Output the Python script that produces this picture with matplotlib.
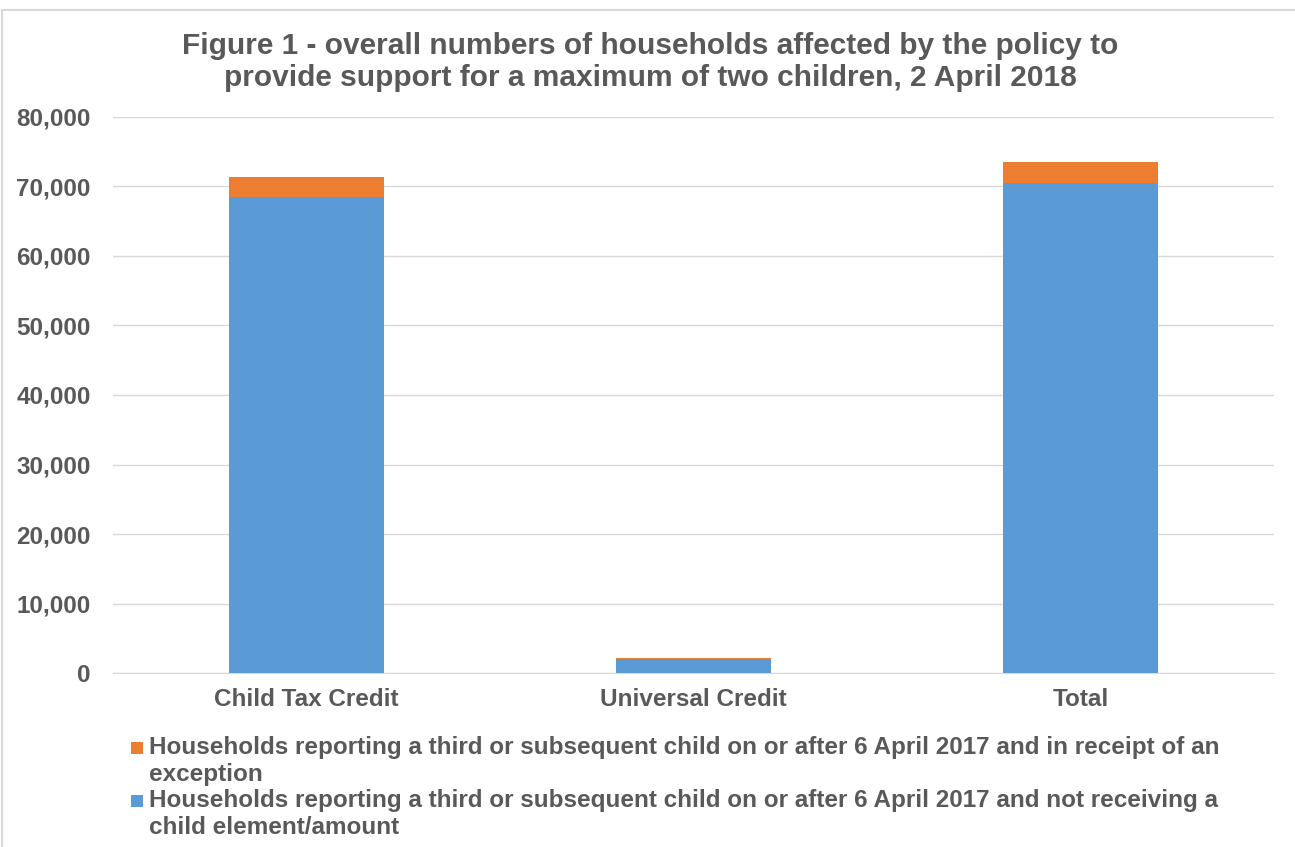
import matplotlib.pyplot as plt
from matplotlib.patches import Rectangle

categories = ["Child Tax Credit", "Universal Credit", "Total"]
not_receiving = [68500, 1950, 70550]
exception = [2850, 180, 2950]
label_exception = "Households reporting a third or subsequent child on or after 6 April 2017 and in receipt of an\nexception"
label_not = "Households reporting a third or subsequent child on or after 6 April 2017 and not receiving a\nchild element/amount"
yticks = [0, 10000, 20000, 30000, 40000, 50000, 60000, 70000, 80000]

plt.rcParams['font.family'] = ['Liberation Sans', 'DejaVu Sans']
gray = '#595959'
blue = '#5b9bd5'
orange = '#ed7d31'

W, H = 1295, 847
fig = plt.figure(figsize=(W / 100, H / 100), dpi=100)
fig.patches.append(Rectangle((0.0015, -0.01), 1.2, 0.998, transform=fig.transFigure,
                             fill=False, edgecolor='#d9d9d9', linewidth=1.5))
ax = fig.add_axes([0.0873, 0.2054, 0.8965, 0.6565])
x = list(range(len(categories)))
ax.bar(x, not_receiving, width=0.4, color=blue, zorder=3)
ax.bar(x, exception, bottom=not_receiving, width=0.4, color=orange, zorder=3)
ax.set_xlim(-0.5, 2.5)
ax.set_ylim(0, 80000)
ax.set_yticks(yticks)
ax.set_yticklabels([f"{v:,}" for v in yticks], fontsize=17.5, fontweight='bold', color=gray)
ax.set_xticks(x)
ax.set_xticklabels(categories, fontsize=17.5, fontweight='bold', color=gray)
ax.tick_params(axis='both', length=0)
ax.tick_params(axis='y', pad=16)
ax.tick_params(axis='x', pad=11)
ax.grid(axis='y', color='#d9d9d9', linewidth=1, zorder=0)
for s in ['top', 'right', 'left']:
    ax.spines[s].set_visible(False)
ax.spines['bottom'].set_color('#d9d9d9')

fig.text(0.502, 0.927, "Figure 1 - overall numbers of households affected by the policy to\nprovide support for a maximum of two children, 2 April 2018",
         ha='center', va='center', fontsize=21.5, fontweight='bold', color=gray, linespacing=1.2)

# legend (manual, handles aligned with the first line of each entry)
entries = [(orange, label_exception, 748), (blue, label_not, 801)]
for color, text, ypix in entries:
    sq = 12
    fig.patches.append(Rectangle((131 / W, 1 - (ypix + sq / 2) / H), sq / W, sq / H,
                                 transform=fig.transFigure, facecolor=color, edgecolor='none'))
    fig.text(149 / W, 1 - (ypix - 12) / H, text, ha='left', va='top', fontsize=17.5,
             fontweight='bold', color=gray, linespacing=1.2)

fig.savefig("out.png", dpi=100)
